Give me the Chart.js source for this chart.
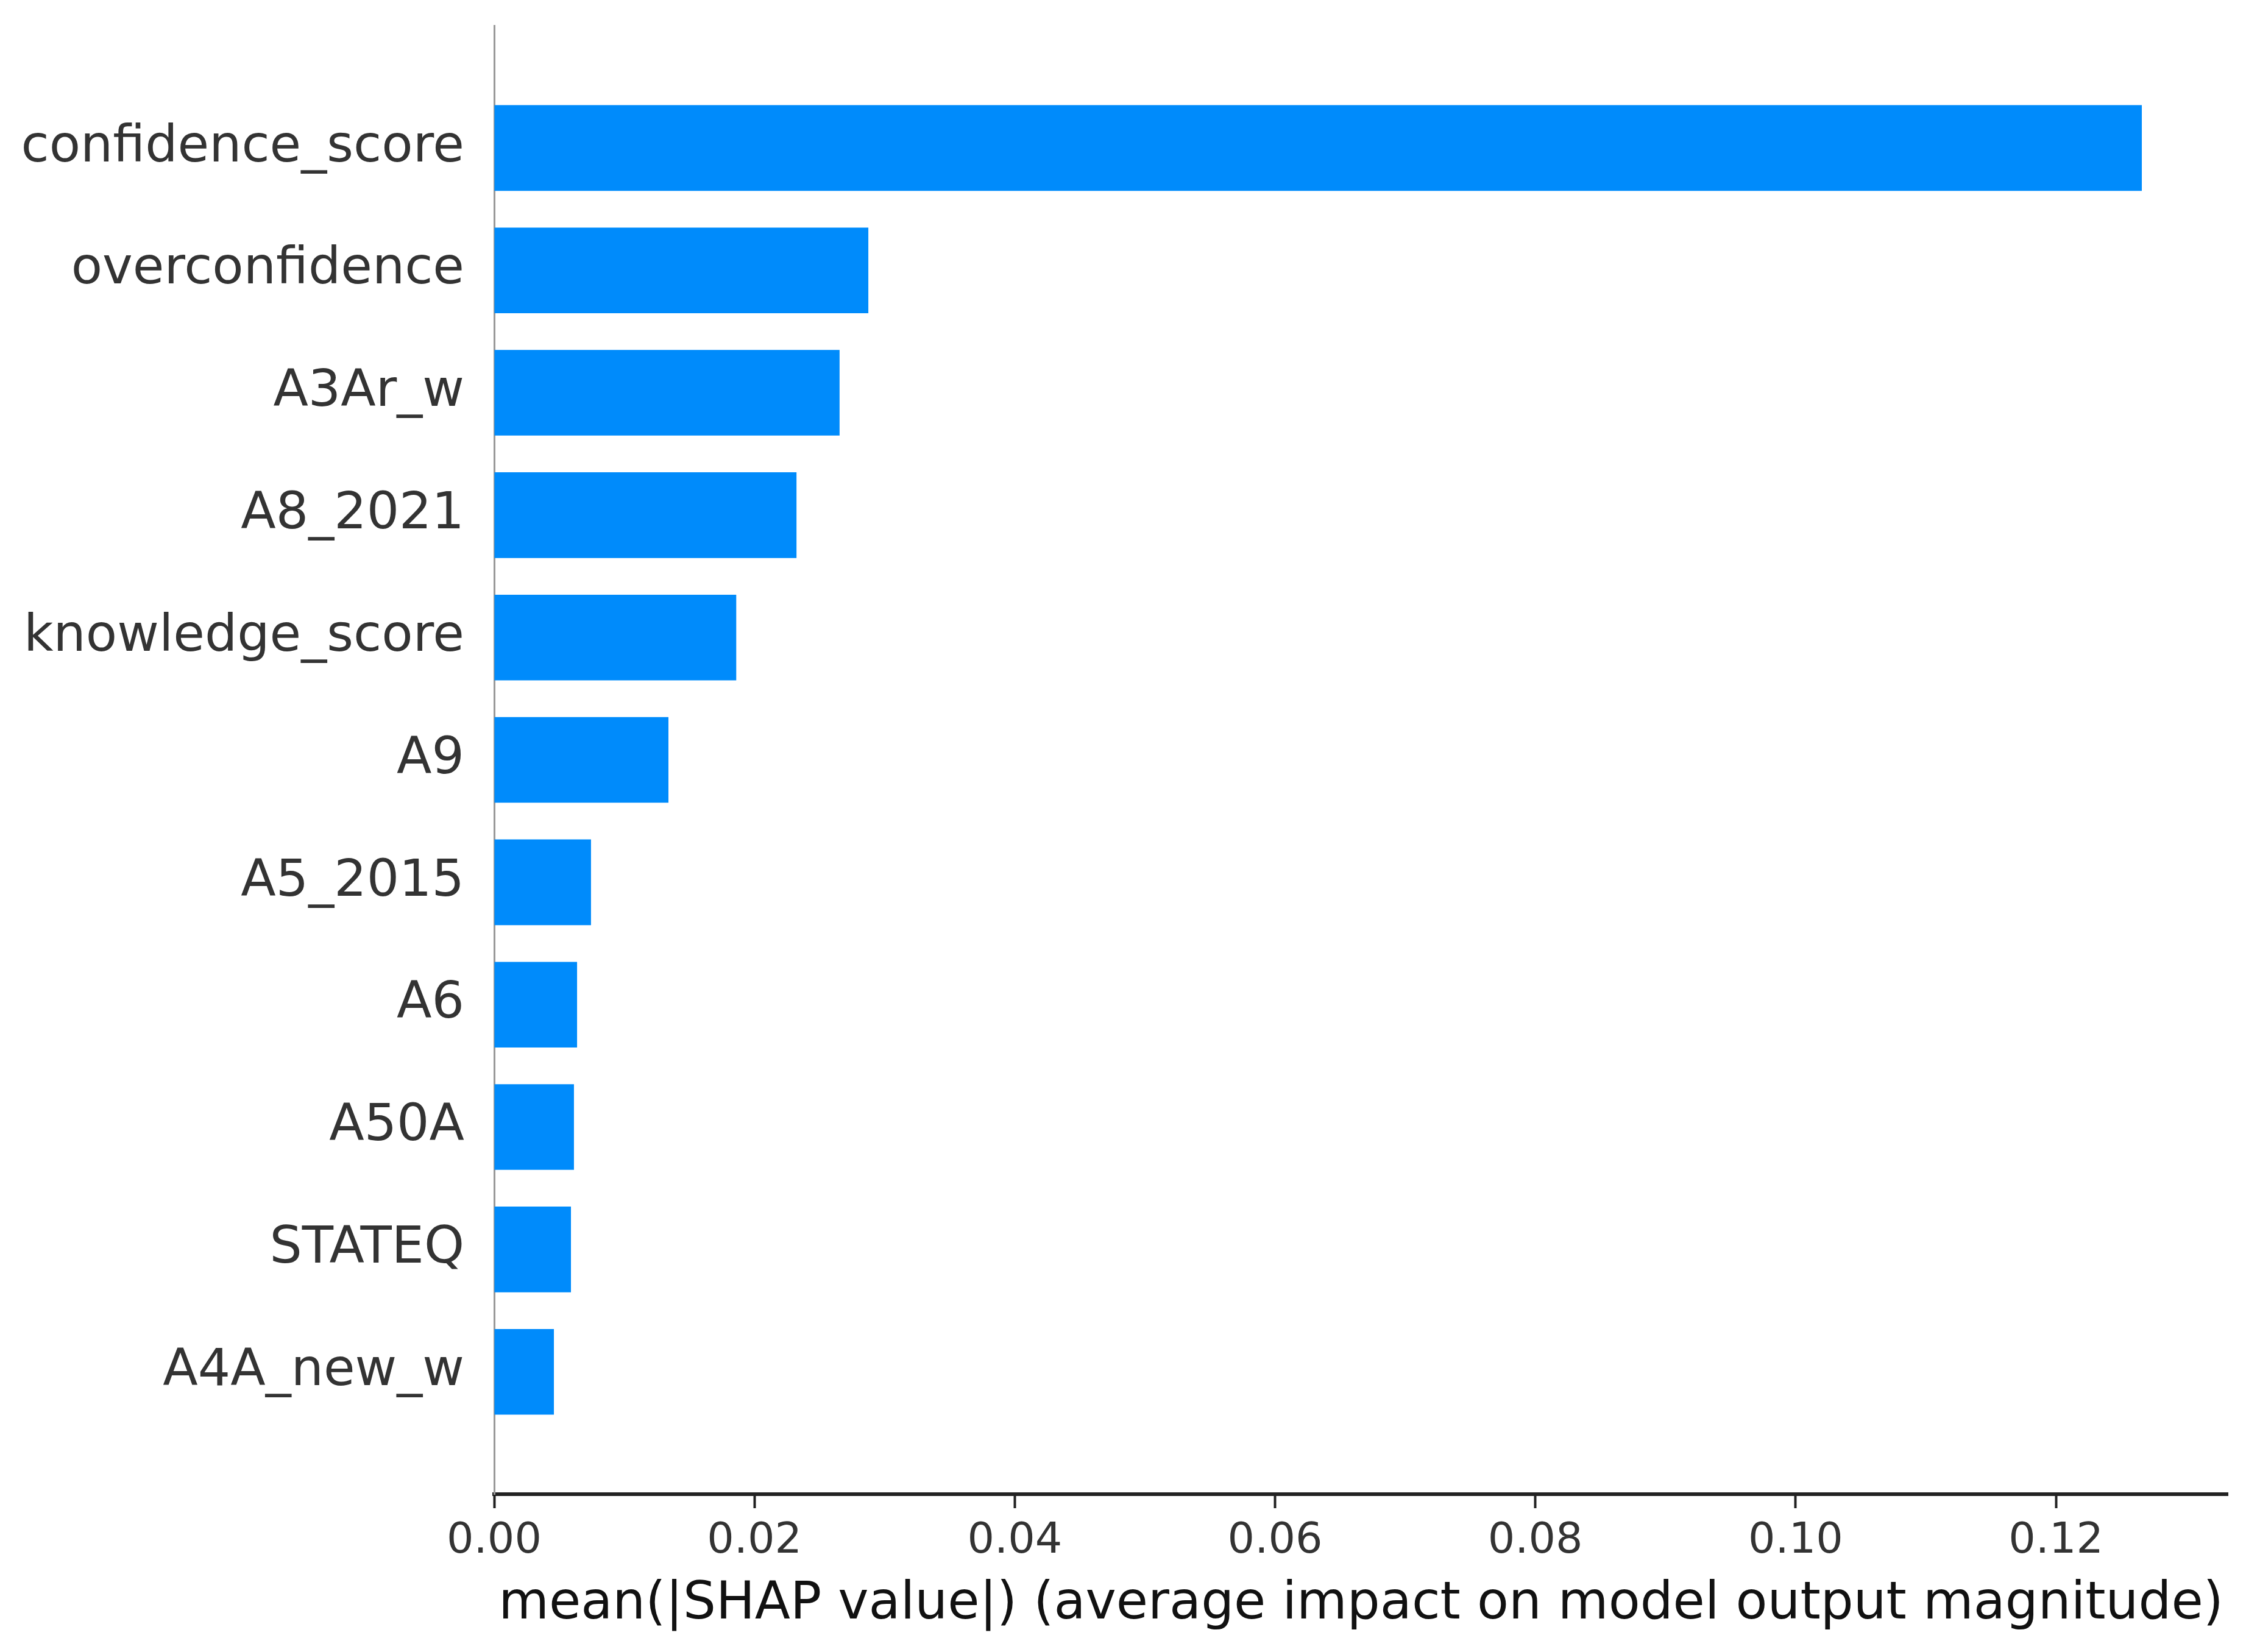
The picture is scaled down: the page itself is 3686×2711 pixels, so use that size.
<!DOCTYPE html>
<html>
<head>
<meta charset="utf-8">
<script src="https://cdn.jsdelivr.net/npm/chart.js@4.4.1/dist/chart.umd.min.js"></script>
<style>
  html, body { margin: 0; padding: 0; background: #fff; }
  #wrap { width: 3686px; height: 2711px; position: relative; }
</style>
</head>
<body>
<div id="wrap"><canvas id="shapBar"></canvas></div>
<script>
// feature names, top to bottom
const features = [
    'confidence_score', 'overconfidence', 'A3Ar_w', 'A8_2021', 'knowledge_score',
    'A9', 'A5_2015', 'A6', 'A50A', 'STATEQ', 'A4A_new_w'
];
// mean(|SHAP value|)
const shapValues = [
    0.1266, 0.02875, 0.02654, 0.02323, 0.0186,
    0.01339, 0.00744, 0.00637, 0.00613, 0.0059, 0.00459
];
const xTicks = [0.00, 0.02, 0.04, 0.06, 0.08, 0.10, 0.12];

const FONT = "'DejaVu Sans', sans-serif";

new Chart(document.getElementById('shapBar'), {
    type: 'bar',
    data: {
        datasets: [{
            data: shapValues.map((v, i) => ({ x: v, y: i })),
            backgroundColor: '#008bfb',
            borderWidth: 0,
            barPercentage: 0.7,
            categoryPercentage: 1.0
        }]
    },
    options: {
        indexAxis: 'y',
        responsive: true,
        maintainAspectRatio: false,
        devicePixelRatio: 1,
        animation: false,
        layout: { padding: { top: 42, right: 30, bottom: 0, left: 0 } },
        plugins: {
            legend: { display: false },
            tooltip: { enabled: false }
        },
        scales: {
            x: {
                type: 'linear',
                position: 'bottom',
                min: 0,
                max: 0.1332,
                afterBuildTicks: (scale) => {
                    scale.ticks = xTicks.map(v => ({ value: v }));
                },
                afterFit: (scale) => {
                    scale.height = 259;
                    scale.paddingLeft = 0;
                    scale.paddingRight = 0;
                },
                grid: {
                    display: true,
                    drawOnChartArea: false,
                    drawTicks: true,
                    tickLength: 23,
                    tickWidth: 4,
                    tickColor: '#222'
                },
                border: { display: true, color: '#222', width: 6 },
                ticks: {
                    padding: 13,
                    color: '#333',
                    font: { family: FONT, size: 70 },
                    callback: (v) => Number(v).toFixed(2)
                },
                title: {
                    display: true,
                    text: 'mean(|SHAP value|) (average impact on model output magnitude)',
                    color: '#111',
                    font: { family: FONT, size: 85 },
                    padding: { top: 0, bottom: 26 }
                }
            },
            y: {
                type: 'linear',
                reverse: true,
                offset: false,
                min: -1,
                max: 11,
                afterBuildTicks: (scale) => {
                    scale.ticks = features.map((_, i) => ({ value: i }));
                },
                afterFit: (scale) => {
                    scale.width = 811;
                    scale.paddingTop = 0;
                    scale.paddingBottom = 0;
                },
                grid: { display: false, offset: false },
                border: { display: true, color: '#999', width: 3 },
                ticks: {
                    padding: 41,
                    autoSkip: false,
                    color: '#333',
                    font: { family: FONT, size: 84 },
                    callback: (v) => features[v] ?? ''
                }
            }
        }
    }
});
</script>
</body>
</html>
